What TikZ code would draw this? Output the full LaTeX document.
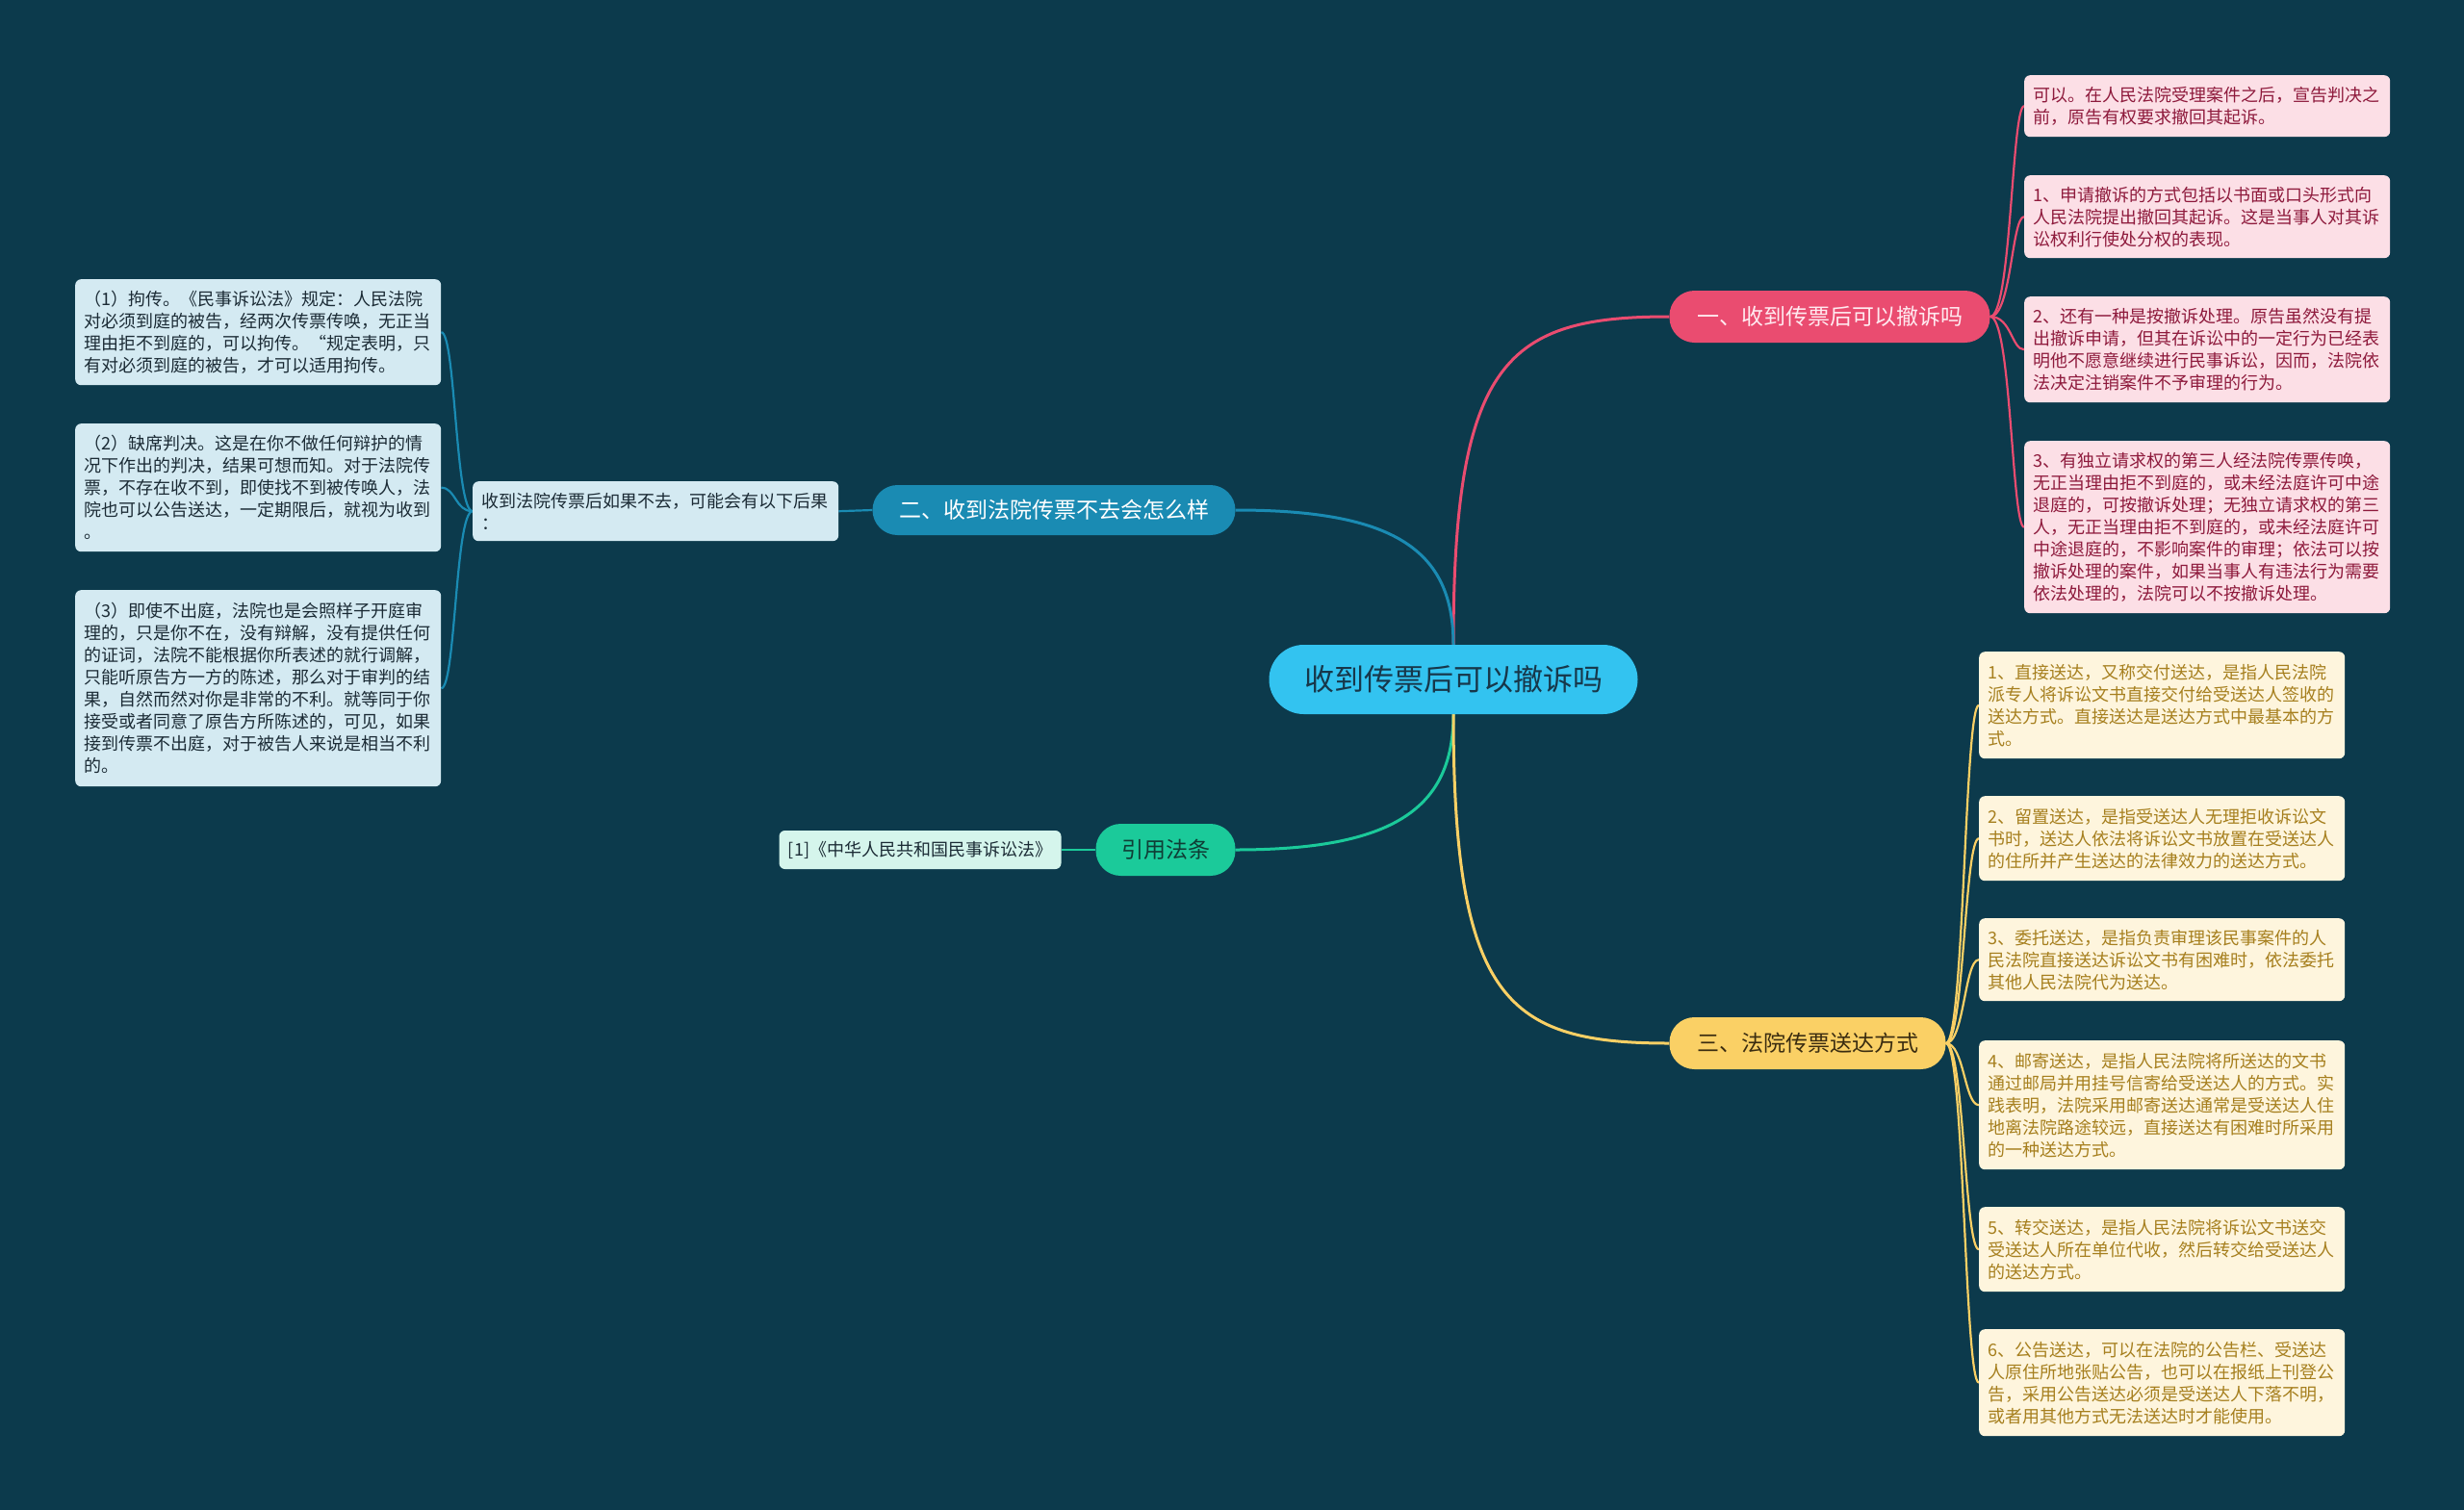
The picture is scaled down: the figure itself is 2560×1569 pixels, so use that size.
\documentclass[tikz,border=0pt]{standalone}
\usepackage{fontspec}
\newfontfamily\cjk{Noto Sans CJK SC}
\definecolor{bg}{HTML}{0C3A4C}
\definecolor{centerfill}{HTML}{33C3F0}
\definecolor{centertext}{HTML}{17374A}
\definecolor{pinkmain}{HTML}{EA4C70}
\definecolor{pinktext}{HTML}{FFEAF0}
\definecolor{pinkleaf}{HTML}{FCDFE6}
\definecolor{pinkleaftext}{HTML}{8E1A3C}
\definecolor{bluemain}{HTML}{1A8BB3}
\definecolor{blueleaf}{HTML}{D4EAF2}
\definecolor{darktext}{HTML}{1B2B35}
\definecolor{greenmain}{HTML}{1BCA9A}
\definecolor{greentext}{HTML}{0F3D35}
\definecolor{greenleaf}{HTML}{D5F5EC}
\definecolor{yellowmain}{HTML}{FAD065}
\definecolor{yellowtext}{HTML}{3A2C10}
\definecolor{yellowleaf}{HTML}{FEF5DD}
\definecolor{yellowleaftext}{HTML}{A67F1E}
\pgfdeclarelayer{bgfill}
\pgfdeclarelayer{lines}
\pgfsetlayers{bgfill,lines,main}
\tikzset{
  pill/.style={rounded corners=26pt, inner sep=0pt, minimum height=54pt, font=\cjk\fontsize{23}{28}\selectfont},
  leafbox/.style={rounded corners=6pt, inner xsep=9pt, inner ysep=0pt, text width=362pt, align=left, anchor=north west, font=\cjk\fontsize{18}{23}\selectfont},
  conn/.style={line width=2.2pt},
  mainconn/.style={line width=3pt},
}
\begin{document}
\begin{tikzpicture}[x=1pt,y=-1pt]
\begin{pgfonlayer}{bgfill}
\fill[bg] (0,0) rectangle (2560,1569);
\end{pgfonlayer}
\useasboundingbox (0,0) rectangle (2560,1569);

% central
\node[fill=centerfill, text=centertext, rounded corners=36pt, minimum width=383pt, minimum height=72pt, inner sep=0pt, font=\cjk\fontsize{31}{36}\selectfont] (c) at (1510,706) {收到传票后可以撤诉吗};

% main branches
\node[pill, fill=pinkmain, text=pinktext, minimum width=333pt] (b1) at (1901,329) {一、收到传票后可以撤诉吗};
\node[pill, fill=bluemain, text=white, minimum width=377pt, minimum height=52pt] (b2) at (1095,530) {二、收到法院传票不去会怎么样};
\node[pill, fill=greenmain, text=greentext, minimum width=145pt] (b3) at (1211,883) {引用法条};
\node[pill, fill=yellowmain, text=yellowtext, minimum width=287pt] (b4) at (1878,1084) {三、法院传票送达方式};

% pink leaves
\node[leafbox, fill=pinkleaf, text=pinkleaftext, minimum height=64pt] (p1) at (2103,78) {可以。在人民法院受理案件之后，宣告判决之\\前，原告有权要求撤回其起诉。};
\node[leafbox, fill=pinkleaf, text=pinkleaftext, minimum height=86pt] (p2) at (2103,182) {1、申请撤诉的方式包括以书面或口头形式向\\人民法院提出撤回其起诉。这是当事人对其诉\\讼权利行使处分权的表现。};
\node[leafbox, fill=pinkleaf, text=pinkleaftext, minimum height=110pt] (p3) at (2103,308) {2、还有一种是按撤诉处理。原告虽然没有提\\出撤诉申请，但其在诉讼中的一定行为已经表\\明他不愿意继续进行民事诉讼，因而，法院依\\法决定注销案件不予审理的行为。};
\node[leafbox, fill=pinkleaf, text=pinkleaftext, minimum height=179pt] (p4) at (2103,458) {3、有独立请求权的第三人经法院传票传唤，\\无正当理由拒不到庭的，或未经法庭许可中途\\退庭的，可按撤诉处理；无独立请求权的第三\\人，无正当理由拒不到庭的，或未经法庭许可\\中途退庭的，不影响案件的审理；依法可以按\\撤诉处理的案件，如果当事人有违法行为需要\\依法处理的，法院可以不按撤诉处理。};

% yellow leaves
\node[leafbox, fill=yellowleaf, text=yellowleaftext, minimum height=111pt] (y1) at (2056,677) {1、直接送达，又称交付送达，是指人民法院\\派专人将诉讼文书直接交付给受送达人签收的\\送达方式。直接送达是送达方式中最基本的方\\式。};
\node[leafbox, fill=yellowleaf, text=yellowleaftext, minimum height=88pt] (y2) at (2056,827) {2、留置送达，是指受送达人无理拒收诉讼文\\书时，送达人依法将诉讼文书放置在受送达人\\的住所并产生送达的法律效力的送达方式。};
\node[leafbox, fill=yellowleaf, text=yellowleaftext, minimum height=86pt] (y3) at (2056,954) {3、委托送达，是指负责审理该民事案件的人\\民法院直接送达诉讼文书有困难时，依法委托\\其他人民法院代为送达。};
\node[leafbox, fill=yellowleaf, text=yellowleaftext, minimum height=134pt] (y4) at (2056,1081) {4、邮寄送达，是指人民法院将所送达的文书\\通过邮局并用挂号信寄给受送达人的方式。实\\践表明，法院采用邮寄送达通常是受送达人住\\地离法院路途较远，直接送达有困难时所采用\\的一种送达方式。};
\node[leafbox, fill=yellowleaf, text=yellowleaftext, minimum height=88pt] (y5) at (2056,1254) {5、转交送达，是指人民法院将诉讼文书送交\\受送达人所在单位代收，然后转交给受送达人\\的送达方式。};
\node[leafbox, fill=yellowleaf, text=yellowleaftext, minimum height=111pt] (y6) at (2056,1381) {6、公告送达，可以在法院的公告栏、受送达\\人原住所地张贴公告，也可以在报纸上刊登公\\告，采用公告送达必须是受送达人下落不明，\\或者用其他方式无法送达时才能使用。};

% blue child and leaves
\node[leafbox, fill=blueleaf, text=darktext, minimum height=62pt] (c2) at (491,500) {收到法院传票后如果不去，可能会有以下后果\\：};
\node[leafbox, fill=blueleaf, text=darktext, minimum height=110pt] (l1) at (78,290) {（1）拘传。《民事诉讼法》规定：人民法院\\对必须到庭的被告，经两次传票传唤，无正当\\理由拒不到庭的，可以拘传。“规定表明，只\\有对必须到庭的被告，才可以适用拘传。};
\node[leafbox, fill=blueleaf, text=darktext, minimum height=133pt] (l2) at (78,440) {（2）缺席判决。这是在你不做任何辩护的情\\况下作出的判决，结果可想而知。对于法院传\\票，不存在收不到，即使找不到被传唤人，法\\院也可以公告送达，一定期限后，就视为收到\\。};
\node[leafbox, fill=blueleaf, text=darktext, minimum height=204pt] (l3) at (78,613) {（3）即使不出庭，法院也是会照样子开庭审\\理的，只是你不在，没有辩解，没有提供任何\\的证词，法院不能根据你所表述的就行调解，\\只能听原告方一方的陈述，那么对于审判的结\\果，自然而然对你是非常的不利。就等同于你\\接受或者同意了原告方所陈述的，可见，如果\\接到传票不出庭，对于被告人来说是相当不利\\的。};

% green child
\node[fill=greenleaf, text=darktext, rounded corners=6pt, inner sep=0pt, minimum width=293pt, minimum height=40pt, font=\cjk\fontsize{18}{23}\selectfont] (g1) at (956,883) {[1]《中华人民共和国民事诉讼法》};

\begin{pgfonlayer}{lines}
% central to branches
\draw[mainconn, pinkmain] (c.north) .. controls +(0,-296) and +(-168,0) .. (b1.west);
\draw[mainconn, bluemain] (c.north) .. controls +(0,-99) and +(164,0) .. (b2.east);
\draw[mainconn, greenmain] (c.south) .. controls +(0,98) and +(164,0) .. (b3.east);
\draw[mainconn, yellowmain] (c.south) .. controls +(0,298) and +(-168,0) .. (b4.west);
% pink leaves
\foreach \n in {p1,p2,p3,p4}
  \draw[conn, pinkmain] (b1.east) .. controls +(22,0) and +(-13,0) .. (\n.west);
% yellow leaves
\foreach \n in {y1,y2,y3,y4,y5,y6}
  \draw[conn, yellowmain] (b4.east) .. controls +(19,0) and +(-15,0) .. (\n.west);
% blue
\draw[conn, bluemain] (b2.west) -- (c2.east);
\foreach \n in {l1,l2,l3}
  \draw[conn, bluemain] (c2.west) .. controls +(-18,0) and +(15,0) .. (\n.east);
% green
\draw[conn, greenmain] (b3.west) -- (g1.east);
\end{pgfonlayer}
\end{tikzpicture}
\end{document}
